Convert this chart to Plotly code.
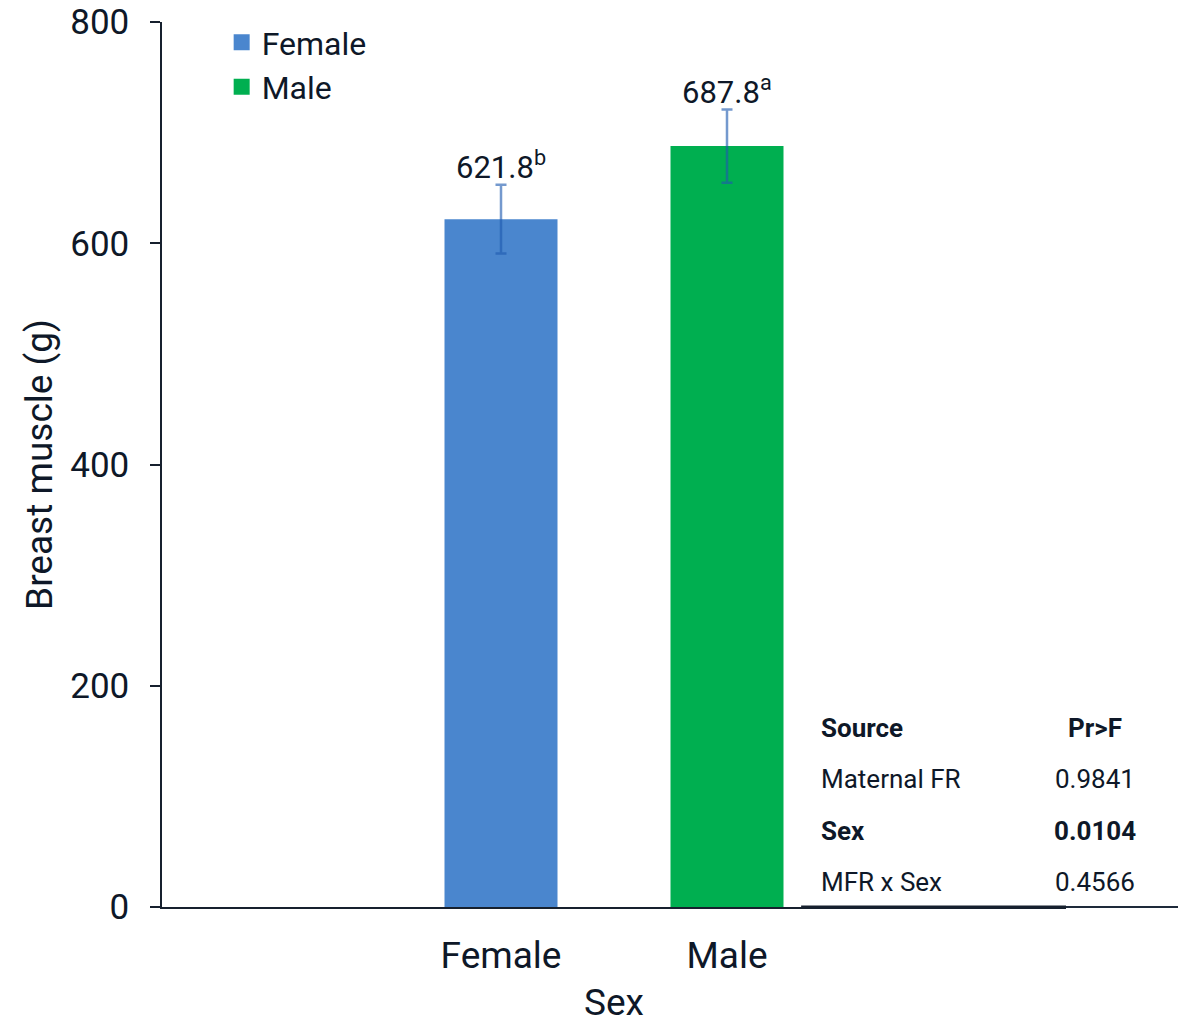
import plotly.graph_objects as go

# Breast muscle weight by sex (least-squares means with SE)
sexes = ["Female", "Male"]
breast_muscle = [621.8, 687.8]
std_error = [31, 33]
letters = ["b", "a"]
bar_colors = ["#4A86CE", "#00AF50"]

# ANOVA summary
sources = ["Maternal FR", "Sex", "MFR x Sex"]
p_values = ["0.9841", "0.0104", "0.4566"]
significant = [False, True, False]

y_ticks = [0, 200, 400, 600, 800]

TEXT = "#0E1828"
FONT = "Roboto"

fig = go.Figure()

for name, val, err, col in zip(sexes, breast_muscle, std_error, bar_colors):
    fig.add_trace(go.Bar(
        x=[name], y=[val], width=0.5, name=name,
        marker=dict(color=col, line=dict(width=0)),
        error_y=dict(type="data", array=[err], visible=True,
                     color="rgba(31,91,176,0.62)", thickness=2.5, width=5.5),
        showlegend=False,
    ))
    # square legend key
    fig.add_trace(go.Scatter(
        x=[None], y=[None], mode="markers", name=name,
        marker=dict(symbol="square", size=16, color=col),
    ))

# value labels with significance letters
for name, val, err, let in zip(sexes, breast_muscle, std_error, letters):
    fig.add_annotation(
        x=name, y=val + err, xref="x", yref="y",
        text=f"{val:.1f}<sup>{let}</sup>", showarrow=False,
        yanchor="bottom", yshift=-3,
        font=dict(family=FONT, size=31, color=TEXT),
    )

# ANOVA table (positions in paper units)
x_src, x_p = 0.727, 1.032
row_y = [0.2023, 0.1446, 0.0859, 0.0282]
fig.add_annotation(x=x_src, y=row_y[0], xref="paper", yref="paper", text="<b>Source</b>",
                   showarrow=False, xanchor="left", yanchor="middle",
                   font=dict(family=FONT, size=26, color=TEXT))
fig.add_annotation(x=x_p, y=row_y[0], xref="paper", yref="paper", text="<b>Pr>F</b>",
                   showarrow=False, xanchor="center", yanchor="middle",
                   font=dict(family=FONT, size=26, color=TEXT))
for src, p, sig, yy in zip(sources, p_values, significant, row_y[1:]):
    s_txt = f"<b>{src}</b>" if sig else src
    p_txt = f"<b>{p}</b>" if sig else p
    fig.add_annotation(x=x_src, y=yy, xref="paper", yref="paper", text=s_txt,
                       showarrow=False, xanchor="left", yanchor="middle",
                       font=dict(family=FONT, size=26, color=TEXT))
    fig.add_annotation(x=x_p, y=yy, xref="paper", yref="paper", text=p_txt,
                       showarrow=False, xanchor="center", yanchor="middle",
                       font=dict(family=FONT, size=26, color=TEXT))

# table bottom rule
fig.add_shape(type="line", xref="paper", yref="paper", x0=0.707, x1=1.0, y0=0, y1=0,
              line=dict(color="#16202E", width=3))
fig.add_shape(type="line", xref="paper", yref="paper", x0=1.0, x1=1.124, y0=0, y1=0,
              line=dict(color="#1E2A3A", width=2))

fig.update_layout(
    width=1178, height=1024,
    margin=dict(l=162, r=112, t=22, b=117, autoexpand=False),
    plot_bgcolor="white", paper_bgcolor="white",
    barmode="overlay",
    font=dict(family=FONT, color=TEXT),
    legend=dict(x=0.066, y=1.008, xanchor="left", yanchor="top",
                font=dict(family=FONT, size=32, color=TEXT),
                bgcolor="rgba(0,0,0,0)", itemwidth=30),
    xaxis=dict(
        type="category", categoryarray=sexes, range=[-1.5, 2.5],
        tickmode="array", tickvals=sexes, ticktext=sexes,
        automargin=False,
        showline=True, linecolor="#16202E", linewidth=1.5,
        ticks="", tickfont=dict(family=FONT, size=37, color=TEXT),
        ticklabelstandoff=15,
        title=dict(text="Sex", font=dict(family=FONT, size=37, color=TEXT), standoff=18),
        showgrid=False, zeroline=False,
    ),
    yaxis=dict(
        range=[0, 800], tickvals=y_ticks,
        automargin=False,
        showline=True, linecolor="#16202E", linewidth=1.5,
        ticks="outside", ticklen=10, tickwidth=1.5, tickcolor="#16202E",
        tickfont=dict(family=FONT, size=35, color=TEXT),
        ticklabelstandoff=14,
        title=dict(text="Breast muscle (g)", font=dict(family=FONT, size=37, color=TEXT), standoff=6),
        showgrid=False, zeroline=False,
    ),
)

fig.write_html("out.html")
